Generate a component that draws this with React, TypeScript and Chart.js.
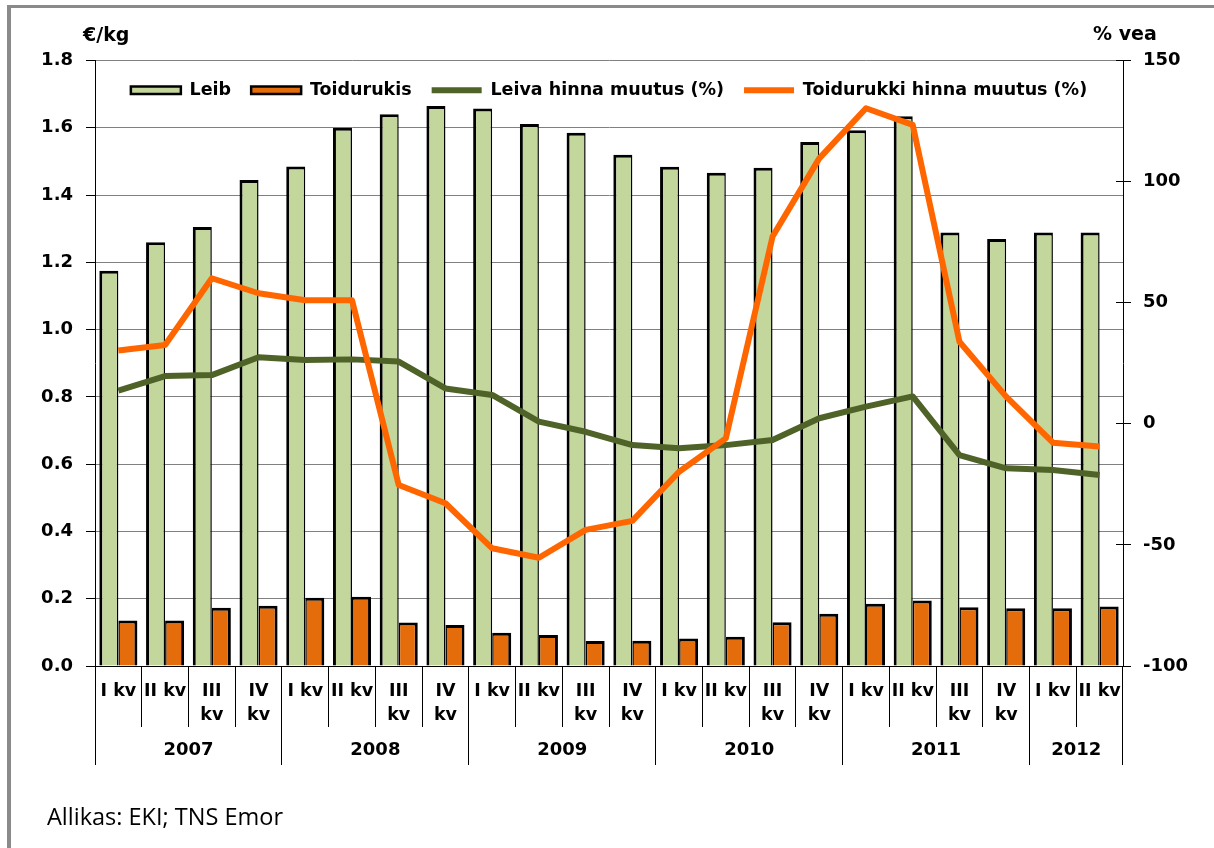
import React, { useEffect, useRef } from "react";
import { Chart, registerables } from "chart.js";

Chart.register(...registerables);

// ---- Data ----
const years = ["2007", "2008", "2009", "2010", "2011", "2012"];
const quartersPerYear = [4, 4, 4, 4, 4, 2];
const quarterLabels: (string | string[])[] = ["I kv", "II kv", ["III", "kv"], ["IV", "kv"]];
const categories = years.flatMap((_, i) => quarterLabels.slice(0, quartersPerYear[i]));

const leib = [1.175, 1.26, 1.305, 1.445, 1.485, 1.6, 1.64, 1.665, 1.657, 1.611, 1.585, 1.52, 1.484, 1.466, 1.481, 1.558, 1.593, 1.634, 1.289, 1.269, 1.289, 1.289];
const toidurukis = [0.135, 0.135, 0.173, 0.179, 0.203, 0.206, 0.129, 0.122, 0.099, 0.092, 0.074, 0.075, 0.082, 0.087, 0.13, 0.155, 0.185, 0.195, 0.175, 0.172, 0.172, 0.177];
const leivaMuutus = [13.7, 19.7, 20.1, 27.5, 26.3, 26.6, 25.7, 14.6, 11.9, 0.9, -3.3, -8.8, -10.1, -8.8, -6.7, 2.3, 7.1, 11.3, -12.9, -18.4, -19.1, -21.1];
const toidurukkiMuutus = [30.3, 32.5, 60.1, 53.9, 51.0, 51.0, -25.3, -32.8, -51.4, -55.3, -43.8, -40.1, -19.8, -6.0, 77.3, 109.6, 130.3, 123.4, 33.9, 11.2, -7.8, -9.4];

const seriesLabels = ["Leib", "Toidurukis", "Leiva hinna muutus (%)", "Toidurukki hinna muutus (%)"];
const leftTitle = "€/kg";
const rightTitle = "% vea";
const sourceText = "Allikas: EKI; TNS Emor";

const FONT = '"DejaVu Sans", sans-serif';

const decorPlugin = {
  id: "decor",
  afterLayout(chart: any) {
    const lg = chart.legend;
    const ca = chart.chartArea;
    if (lg && ca) {
      const h = lg.height;
      lg.left = ca.left;
      lg.right = ca.right;
      lg.width = ca.right - ca.left;
      lg.top = ca.top + 1;
      lg.bottom = lg.top + h;
    }
  },
  beforeDraw(chart: any) {
    const ctx = chart.ctx;
    ctx.save();
    ctx.fillStyle = "#8a8a8a";
    ctx.fillRect(7, 5, 1214, 3);
    ctx.fillRect(7, 5, 4, 848);
    ctx.restore();
  },
  afterDraw(chart: any) {
    const ctx = chart.ctx;
    const ca = chart.chartArea;
    const xs = chart.scales.x;
    const y1 = chart.scales.y1;
    ctx.save();
    ctx.strokeStyle = "#000";
    ctx.lineWidth = 1;
    // inner part of right axis tick marks
    y1.ticks.forEach((t: any) => {
      const py = Math.round(y1.getPixelForValue(t.value) - 0.5) + 0.5;
      ctx.beginPath();
      ctx.moveTo(ca.right - 7, py);
      ctx.lineTo(ca.right, py);
      ctx.stroke();
    });
    // year separators and labels
    const step = xs.getPixelForValue(1) - xs.getPixelForValue(0);
    const boundary = (b: number) => xs.getPixelForValue(0) - step / 2 + b * step;
    ctx.fillStyle = "#000";
    ctx.font = `bold 18px ${FONT}`;
    ctx.textAlign = "center";
    ctx.textBaseline = "middle";
    let start = 0;
    const drawSep = (b: number) => {
      const px = Math.round(boundary(b) - 0.5) + 0.5;
      ctx.beginPath();
      ctx.moveTo(px, ca.bottom);
      ctx.lineTo(px, 765);
      ctx.stroke();
    };
    drawSep(0);
    years.forEach((yr, i) => {
      const end = start + quartersPerYear[i];
      drawSep(end);
      ctx.fillText(yr, (boundary(start) + boundary(end)) / 2, 750);
      start = end;
    });
    // axis titles
    ctx.font = `bold 19px ${FONT}`;
    ctx.textAlign = "left";
    ctx.fillText(leftTitle, 83, 36);
    ctx.fillText(rightTitle, 1093, 35);
    // source
    ctx.font = `23.5px "Open Sans", sans-serif`;
    ctx.textBaseline = "alphabetic";
    ctx.fillText(sourceText, 47, 825);
    ctx.restore();
  },
};

export default function App() {
  const ref = useRef<HTMLCanvasElement | null>(null);

  useEffect(() => {
    if (!ref.current) return;
    const chart = new Chart(ref.current, {
      type: "bar",
      data: {
        labels: categories as any,
        datasets: [
          {
            type: "bar",
            label: seriesLabels[0],
            data: leib,
            yAxisID: "y",
            backgroundColor: "#c3d69b",
            borderColor: "#000",
            borderWidth: { top: 3, left: 3, right: 1.5, bottom: 0 } as any,
            categoryPercentage: 0.815,
            barPercentage: 1,
            order: 2,
          },
          {
            type: "bar",
            label: seriesLabels[1],
            data: toidurukis,
            yAxisID: "y",
            backgroundColor: "#e46c0a",
            borderColor: "#000",
            borderWidth: { top: 3, left: 1.5, right: 3, bottom: 0 } as any,
            categoryPercentage: 0.815,
            barPercentage: 1,
            order: 2,
          },
          {
            type: "line",
            label: seriesLabels[2],
            data: leivaMuutus,
            yAxisID: "y1",
            borderColor: "#4f6228",
            backgroundColor: "#4f6228",
            borderWidth: 6,
            pointRadius: 0,
            tension: 0,
            borderJoinStyle: "round",
            order: 1,
          } as any,
          {
            type: "line",
            label: seriesLabels[3],
            data: toidurukkiMuutus,
            yAxisID: "y1",
            borderColor: "#ff6600",
            backgroundColor: "#ff6600",
            borderWidth: 6,
            pointRadius: 0,
            tension: 0,
            borderJoinStyle: "round",
            order: 0,
          } as any,
        ],
      },
      options: {
        responsive: false,
        animation: false,
        devicePixelRatio: 1,
        layout: { padding: { top: 13, left: 0, right: 0, bottom: 0 } },
        plugins: {
          tooltip: { enabled: false },
          legend: {
            display: true,
            position: "top",
            align: "center",
            labels: {
              usePointStyle: true,
              pointStyleWidth: 50,
              boxHeight: 7.5,
              padding: 20,
              color: "#000",
              font: { family: FONT, size: 17.5, weight: "bold" },
              sort: (a: any, b: any) => a.datasetIndex - b.datasetIndex,
              generateLabels: (ch: any) =>
                ch.data.datasets.map((ds: any, i: number) => {
                  const isLine = ds.type === "line";
                  return {
                    text: ds.label,
                    fillStyle: isLine ? ds.borderColor : ds.backgroundColor,
                    strokeStyle: isLine ? ds.borderColor : "#000",
                    lineWidth: isLine ? 6 : 2.5,
                    pointStyle: isLine ? "line" : "rect",
                    hidden: false,
                    datasetIndex: i,
                    fontColor: "#000",
                  };
                }),
            },
          },
        },
        scales: {
          x: {
            type: "category",
            offset: true,
            grid: {
              offset: true,
              drawOnChartArea: false,
              drawTicks: true,
              tickLength: 61,
              color: "#000",
              tickColor: "#000",
              lineWidth: 1,
            },
            border: { display: true, color: "#000", width: 1 },
            ticks: {
              autoSkip: false,
              maxRotation: 0,
              minRotation: 0,
              padding: -48,
              color: "#000",
              font: { family: FONT, size: 17.5, weight: "bold", lineHeight: 1.37 },
            },
            afterFit: (s: any) => {
              s.height = 182;
            },
          },
          y: {
            type: "linear",
            position: "left",
            min: 0,
            max: 1.8,
            ticks: {
              stepSize: 0.2,
              padding: 13,
              color: "#000",
              font: { family: FONT, size: 18, weight: "bold" },
              callback: (v: any) => Number(v).toFixed(1),
            },
            grid: {
              color: (c: any) => (c.tick && c.tick.value === 0 ? "#000" : "#808080"),
              tickColor: "#000",
              tickLength: 9,
              lineWidth: 1,
            },
            border: { display: true, color: "#000", width: 1 },
            afterFit: (s: any) => {
              s.width = 95;
            },
          },
          y1: {
            type: "linear",
            position: "right",
            min: -100,
            max: 150,
            ticks: {
              stepSize: 50,
              padding: 12,
              color: "#000",
              font: { family: FONT, size: 18, weight: "bold" },
            },
            grid: {
              drawOnChartArea: false,
              color: "#000",
              tickColor: "#000",
              tickLength: 8,
              lineWidth: 1,
            },
            border: { display: true, color: "#000", width: 1 },
            afterFit: (s: any) => {
              s.width = 91;
            },
          },
        },
      } as any,
      plugins: [decorPlugin as any],
    });
    return () => chart.destroy();
  }, []);

  return (
    <div style={{ position: "absolute", left: 0, top: 0, width: 1214, height: 848, background: "#fff" }}>
      <canvas ref={ref} width={1214} height={848} style={{ display: "block" }} />
    </div>
  );
}
